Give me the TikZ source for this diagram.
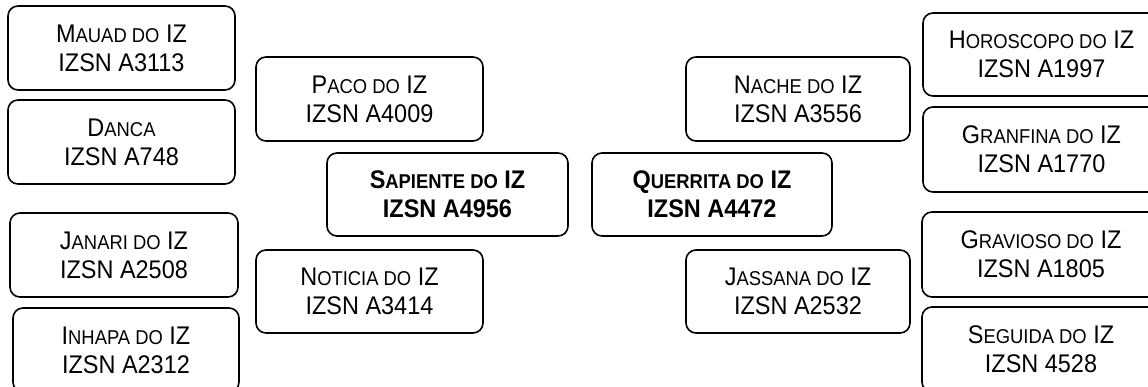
\documentclass[tikz,border=0pt]{standalone}
\usepackage{fontspec}
\setmainfont{Liberation Sans}[FakeStretch=0.92]
\newcommand\mysc[2]{#1{\fontsize{20}{29}\selectfont #2}}
\tikzset{
  box/.style={draw=black, line width=1.6pt, rounded corners=10pt, align=center,
    inner sep=0pt, font=\fontsize{25.5}{29}\selectfont, text=black},
  boldbox/.style={box, font=\fontsize{25.5}{29}\selectfont\bfseries},
}
\begin{document}
\begin{tikzpicture}[x=1pt,y=-1pt]
\useasboundingbox (0,0) rectangle (1148,387);
\clip (0,0) rectangle (1148,387);
\node[box, minimum width=227pt, minimum height=84pt] (mauad) at (121.5,48) {\mysc{M}{AUAD DO} IZ\\IZSN A3113};
\node[box, minimum width=227pt, minimum height=84pt] (danca) at (121.5,142) {\mysc{D}{ANCA}\\IZSN A748};
\node[box, minimum width=228pt, minimum height=84pt] (janari) at (124,255) {\mysc{J}{ANARI DO} IZ\\IZSN A2508};
\node[box, minimum width=226pt, minimum height=84pt] (inhapa) at (126,350) {\mysc{I}{NHAPA DO} IZ\\IZSN A2312};
\node[box, minimum width=227pt, minimum height=84pt] (paco) at (369.5,99) {\mysc{P}{ACO DO} IZ\\IZSN A4009};
\node[boldbox, minimum width=241pt, minimum height=83pt] (sapiente) at (447.5,194.5) {\mysc{S}{APIENTE DO} IZ\\IZSN A4956};
\node[box, minimum width=227pt, minimum height=83pt] (noticia) at (369.5,291.5) {\mysc{N}{OTICIA DO} IZ\\IZSN A3414};
\node[boldbox, minimum width=240pt, minimum height=83pt] (querrita) at (712,194.5) {\mysc{Q}{UERRITA DO} IZ\\IZSN A4472};
\node[box, minimum width=224pt, minimum height=84pt] (nache) at (798,99) {\mysc{N}{ACHE DO} IZ\\IZSN A3556};
\node[box, minimum width=224pt, minimum height=83pt] (jassana) at (798,291.5) {\mysc{J}{ASSANA DO} IZ\\IZSN A2532};
\node[box, minimum width=237pt, minimum height=83pt] (horoscopo) at (1041.5,54.5) {\mysc{H}{OROSCOPO DO} IZ\\IZSN A1997};
\node[box, minimum width=237pt, minimum height=85pt] (granfina) at (1041.5,149.5) {\mysc{G}{RANFINA DO} IZ\\IZSN A1770};
\node[box, minimum width=238pt, minimum height=85pt] (gravioso) at (1041,254.5) {\mysc{G}{RAVIOSO DO} IZ\\IZSN A1805};
\node[box, minimum width=238pt, minimum height=85pt] (seguida) at (1041,349.5) {\mysc{S}{EGUIDA DO} IZ\\IZSN 4528};
\end{tikzpicture}
\end{document}
